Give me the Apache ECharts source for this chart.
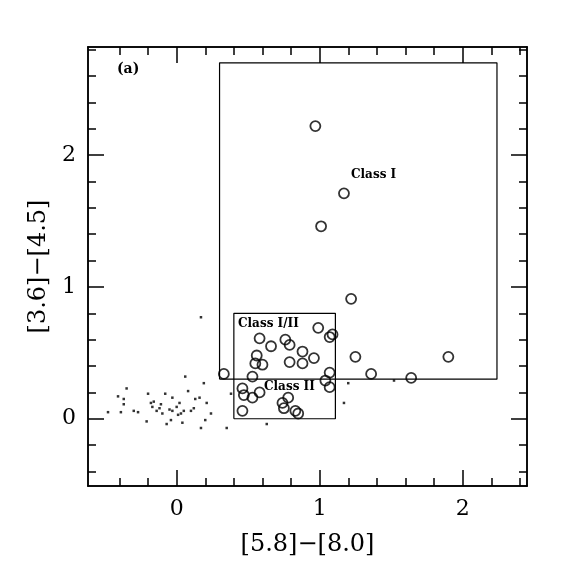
<!DOCTYPE html>
<html>
<head>
<meta charset="utf-8">
<script src="https://cdn.jsdelivr.net/npm/echarts@6/dist/echarts.min.js"></script>
<style>html,body{margin:0;padding:0;background:#fff}#chart{width:574px;height:574px}</style>
</head>
<body>
<div id="chart"></div>
<script>
// Measured sources, open circles: [5.8]-[8.0], [3.6]-[4.5]
var yso = [
    [0.97, 2.22], [1.17, 1.71], [1.01, 1.46], [1.22, 0.91], [0.33, 0.34],
    [0.99, 0.69], [1.09, 0.64], [1.07, 0.62], [1.25, 0.47], [1.90, 0.47],
    [1.36, 0.34], [1.64, 0.31], [0.58, 0.61], [0.66, 0.55], [0.76, 0.60],
    [0.79, 0.56], [0.56, 0.48], [0.88, 0.51], [0.96, 0.46], [0.55, 0.42],
    [0.60, 0.41], [0.79, 0.43], [0.88, 0.42], [0.53, 0.32], [1.07, 0.35],
    [1.04, 0.29], [1.07, 0.24], [0.46, 0.23], [0.47, 0.18], [0.53, 0.16],
    [0.58, 0.20], [0.78, 0.16], [0.74, 0.12], [0.75, 0.08], [0.83, 0.06],
    [0.85, 0.04], [0.46, 0.06]
];

// Field stars, small dots
var field = [
    [-0.48, 0.05], [-0.41, 0.17], [-0.39, 0.05], [-0.37, 0.15], [-0.37, 0.11],
    [-0.35, 0.23], [-0.30, 0.06], [-0.27, 0.05], [-0.21, -0.02], [-0.20, 0.19],
    [-0.18, 0.12], [-0.17, 0.09], [-0.16, 0.13], [-0.14, 0.06], [-0.12, 0.08],
    [-0.11, 0.11], [-0.10, 0.04], [-0.08, 0.19], [-0.07, -0.04], [-0.05, 0.07],
    [-0.04, -0.01], [-0.03, 0.16], [-0.03, 0.06], [0.00, 0.09], [0.01, 0.03],
    [0.02, 0.12], [0.03, 0.04], [0.04, -0.03], [0.05, 0.06], [0.06, 0.32],
    [0.08, 0.21], [0.10, 0.06], [0.12, 0.08], [0.13, 0.15], [0.16, 0.16],
    [0.17, -0.07], [0.19, 0.27], [0.20, -0.01], [0.21, 0.12], [0.24, 0.04],
    [0.35, -0.07], [0.38, 0.19], [0.63, -0.04], [1.17, 0.12], [1.20, 0.27],
    [0.17, 0.77], [1.52, 0.29]
];

// Class boundaries
var classIBox = [[0.3, 0.3], [0.3, 2.7], [2.24, 2.7], [2.24, 0.3], [0.3, 0.3]];
var classIIBox = [[0.4, 0.0], [0.4, 0.8], [1.11, 0.8], [1.11, 0.0], [0.4, 0.0]];

// Ticks
var xMajor = [0, 1, 2];
var xMinor = [-0.4, -0.2, 0, 0.2, 0.4, 0.6, 0.8, 1, 1.2, 1.4, 1.6, 1.8, 2, 2.2, 2.4];
var yMajor = [0, 1, 2];
var yMinor = [-0.4, -0.2, 0, 0.2, 0.4, 0.6, 0.8, 1, 1.2, 1.4, 1.6, 1.8, 2, 2.2, 2.4, 2.6, 2.8];

var font = '"DejaVu Serif", "Liberation Serif", serif';
var xRange = {min: -0.62, max: 2.45};
var yRange = {min: -0.51, max: 2.82};

function makeAxis(range, pos, ticks, len, labels, extra) {
    var ax = {
        type: 'value', position: pos, min: range.min, max: range.max,
        splitLine: {show: false},
        axisLine: {show: true, onZero: false, lineStyle: {color: '#000', width: 1.5}},
        axisTick: {show: true, inside: true, length: len, customValues: ticks, lineStyle: {color: '#000', width: 1.5}},
        axisLabel: labels ? {show: true, customValues: labels, color: '#000', fontFamily: font, fontSize: 22, margin: 12}
                          : {show: false}
    };
    return Object.assign(ax, extra || {});
}

var chart = echarts.init(document.getElementById('chart'));

chart.setOption({
    animation: false,
    grid: {left: 88, right: 47, top: 47, bottom: 88},
    xAxis: [
        makeAxis(xRange, 'bottom', xMajor, 16, xMajor, {
            name: '[5.8]\u2212[8.0]', nameLocation: 'middle', nameGap: 47,
            nameTextStyle: {color: '#000', fontFamily: font, fontSize: 24}
        }),
        makeAxis(xRange, 'bottom', xMinor, 8),
        makeAxis(xRange, 'top', xMajor, 16),
        makeAxis(xRange, 'top', xMinor, 8)
    ],
    yAxis: [
        makeAxis(yRange, 'left', yMajor, 16, yMajor, {
            name: '[3.6]\u2212[4.5]', nameLocation: 'middle', nameGap: 32,
            nameTextStyle: {color: '#000', fontFamily: font, fontSize: 24}
        }),
        makeAxis(yRange, 'left', yMinor, 8),
        makeAxis(yRange, 'right', yMajor, 16),
        makeAxis(yRange, 'right', yMinor, 8)
    ],
    series: [
        {
            type: 'line', data: classIBox, symbol: 'none',
            lineStyle: {color: '#000', width: 1.2}
        },
        {
            type: 'line', data: classIIBox, symbol: 'none',
            lineStyle: {color: '#000', width: 1.2}
        },
        {
            type: 'scatter', data: field, symbol: 'rect', symbolSize: 2.5,
            itemStyle: {color: '#000'}
        },
        {
            type: 'scatter', data: yso, symbol: 'circle', symbolSize: 10,
            itemStyle: {color: 'rgba(255,255,255,0)', borderColor: '#000', borderWidth: 1.8}
        }
    ],
    graphic: [
        {type: 'text', left: 117, top: 62, style: {text: '(a)', font: 'bold 14px ' + font, fill: '#000'}},
        {type: 'text', left: 351, top: 169, style: {text: 'Class I', font: 'bold 12px ' + font, fill: '#000'}},
        {type: 'text', left: 238, top: 318, style: {text: 'Class I/II', font: 'bold 12px ' + font, fill: '#000'}},
        {type: 'text', left: 264, top: 381, style: {text: 'Class II', font: 'bold 12px ' + font, fill: '#000'}}
    ]
});
</script>
</body>
</html>
